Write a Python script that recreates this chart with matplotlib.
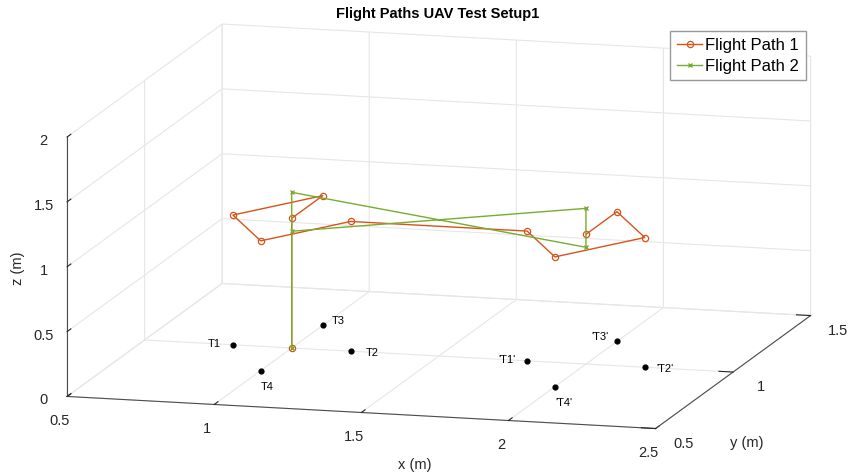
import matplotlib
matplotlib.use("Agg")
import matplotlib.pyplot as plt

plt.rcParams['font.family'] = ['Liberation Sans', 'DejaVu Sans']

# ground targets, first set
target_names = ['T1', 'T2', 'T3', 'T4']
targets_x = [0.8, 1.2, 1.0, 1.0]
targets_y = [1.0, 1.0, 1.2, 0.8]

# ground targets, second set
targets2_names = ["'T1'", "'T2'", "'T3'", "'T4'"]
targets2_x = [1.8, 2.2, 2.0, 2.0]
targets2_y = [1.0, 1.0, 1.2, 0.8]

# flight path 1 (visits each target at 1 m)
path1_x = [1.0, 1.0, 1.0, 0.8, 1.0, 1.2, 1.8, 2.0, 2.2, 2.0, 2.0]
path1_y = [1.0, 1.0, 1.2, 1.0, 0.8, 1.0, 1.0, 0.8, 1.0, 1.2, 1.0]
path1_z = [0.0, 1.0, 1.0, 1.0, 1.0, 1.0, 1.0, 1.0, 1.0, 1.0, 1.0]

# flight path 2 (criss-cross between the two centres)
path2_x = [1.0, 1.0, 2.0, 2.0, 1.0]
path2_y = [1.0, 1.0, 1.0, 1.0, 1.0]
path2_z = [0.0, 1.2, 0.9, 1.2, 0.9]

x_ticks = [0.5, 1, 1.5, 2, 2.5]
y_ticks = [0.5, 1, 1.5]
z_ticks = [0, 0.5, 1, 1.5, 2]

ORANGE = '#D95319'
GREEN = '#77AC30'
GRID = '#E6E6E6'
AXIS = '#4D4D4D'
TEXT = '#262626'

fig = plt.figure(figsize=(8.48, 4.75), dpi=100)
ax = fig.add_axes([0.004, -0.393, 1.0, 1.785], projection='3d', proj_type='ortho')
ax.view_init(elev=11.5, azim=-74.7)
ax.set_box_aspect((1, 0.963, 0.434), zoom=1.016)

line1, = ax.plot(path1_x, path1_y, path1_z, color=ORANGE, lw=1, marker='o',
                 markersize=4.5, markerfacecolor='none', markeredgewidth=0.9)
line2, = ax.plot(path2_x, path2_y, path2_z, color=GREEN, lw=1, marker='x',
                 markersize=3.5, markeredgewidth=1)

ax.scatter(targets_x, targets_y, [0] * 4, color='black', s=12, depthshade=False)
ax.scatter(targets2_x, targets2_y, [0] * 4, color='black', s=12, depthshade=False)

# label placement around the dots (dx, dy, dz, ha)
offs1 = [(-0.04, 0, 0, 'right'), (0.05, 0, -0.01, 'left'),
         (0.03, 0, 0.04, 'left'), (0, 0, -0.13, 'left')]
offs2 = [(-0.04, 0, 0, 'right'), (0.04, 0, -0.01, 'left'),
         (-0.03, 0, 0.03, 'right'), (0.0, 0, -0.13, 'left')]
for name, x, y, (dx, dy, dz, ha) in zip(target_names, targets_x, targets_y, offs1):
    ax.text(x + dx, y + dy, dz, name, fontsize=8, ha=ha, va='center', color='black')
for name, x, y, (dx, dy, dz, ha) in zip(targets2_names, targets2_x, targets2_y, offs2):
    ax.text(x + dx, y + dy, dz, name, fontsize=8, ha=ha, va='center', color='black')

ax.set_xlim(0.5, 2.5)
ax.set_ylim(0.5, 1.5)
ax.set_zlim(0, 2)
ax.set_xticks(x_ticks)
ax.set_yticks(y_ticks)
ax.set_zticks(z_ticks)
ax.set_xticklabels(['0.5', '1', '1.5', '2', '2.5'])
ax.set_yticklabels(['0.5', '1', '1.5'])
ax.set_zticklabels(['0', '0.5', '1', '1.5', '2'])
ax.zaxis.set_ticks_position('lower')

for axis in (ax.xaxis, ax.yaxis, ax.zaxis):
    axis.set_pane_color((1, 1, 1, 0))
    axis.pane.set_edgecolor(GRID)
    axis.line.set_color(AXIS)
    axis.line.set_linewidth(0.8)
    axis._axinfo['grid'].update(color=GRID, linewidth=0.8)
    axis._axinfo['tick'].update(inward_factor=0, outward_factor=0.3)
    axis._axinfo['tick']['color'] = AXIS
    axis.label.set_visible(False)
    axis.offsetText.set_visible(False)
ax.title.set_visible(False)
ax.tick_params(labelsize=10.5, colors=TEXT)
ax.tick_params(axis='x', pad=7)
ax.tick_params(axis='y', pad=7)
ax.tick_params(axis='z', pad=2)
for t in ax.get_zticklabels():
    t.set_va('center_baseline')
for t in ax.get_yticklabels():
    t.set_va('center_baseline')

# axis titles placed as in the original (kept horizontal like MATLAB)
fig.text(415 / 848, 1 - 465 / 475, 'x (m)', fontsize=10.5, color=TEXT, ha='center', va='center')
fig.text(747 / 848, 1 - 443 / 475, 'y (m)', fontsize=10.5, color=TEXT, ha='center', va='center')
fig.text(18 / 848, 1 - 268 / 475, 'z (m)', fontsize=10.5, color=TEXT, ha='center', va='center',
         rotation=90)

fig.text(438 / 848, 1 - 14 / 475, 'Flight Paths UAV Test Setup1', fontsize=10.5,
         fontweight='bold', ha='center', va='center')

fig.legend([line1, line2], ['Flight Path 1', 'Flight Path 2'], loc='upper right',
           bbox_to_anchor=(806 / 848, 1 - 31 / 475), fontsize=12, fancybox=False,
           framealpha=1, edgecolor='#999999', handlelength=1.5, handletextpad=0.2,
           borderpad=0.4, labelspacing=0.35, borderaxespad=0)

fig.savefig('out.png', dpi=100)
